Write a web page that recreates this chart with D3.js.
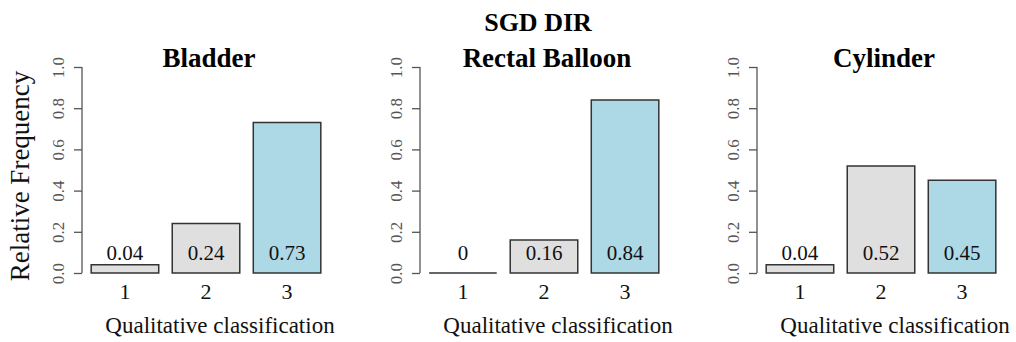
<!DOCTYPE html>
<html>
<head>
<meta charset="utf-8">
<script src="https://cdn.jsdelivr.net/npm/d3@7"></script>
<style>
  body { margin: 0; background: #fff; }
  svg { display: block; font-family: "Liberation Serif", "Times New Roman", serif; }
</style>
</head>
<body>
<svg id="chart" width="1016" height="342"></svg>
<script>
const panelTitles = ['Bladder', 'Rectal Balloon', 'Cylinder'];
const categories = ['1', '2', '3'];
const bladder = [0.04, 0.24, 0.73];
const rectalBalloon = [0, 0.16, 0.84];
const cylinder = [0.04, 0.52, 0.45];
const barLabels = [['0.04', '0.24', '0.73'], ['0', '0.16', '0.84'], ['0.04', '0.52', '0.45']];
const yTicks = [0, 0.2, 0.4, 0.6, 0.8, 1.0];
const seriesList = [bladder, rectalBalloon, cylinder];
const barColors = ['#dfdfdf', '#dfdfdf', '#add8e6'];

const svg = d3.select('#chart');
const axisLeft = [82, 420, 757];
const plotW = 248;
const plotTop = 67, plotBottom = 273;

// R barplot style: width 1, space 0.2, 4% padding
const sx = d3.scaleLinear().domain([0.064, 3.736]).range([0, plotW]);
const sy = d3.scaleLinear().domain([0, 1]).range([plotBottom, plotTop]);

svg.append('text')
  .attr('x', 538).attr('y', 31)
  .attr('text-anchor', 'middle')
  .style('font-weight', 'bold').style('font-size', '26px')
  .text('SGD DIR');

seriesList.forEach(function(values, p) {
  const g = svg.append('g').attr('transform', `translate(${axisLeft[p]},0)`);

  // y axis
  const yAxis = d3.axisLeft(sy).tickValues(yTicks).tickFormat(d3.format('.1f')).tickSize(8);
  const ga = g.append('g').call(yAxis);
  ga.select('.domain').attr('d', `M0,${sy(0)}V${sy(1)}`).attr('stroke', '#555').attr('stroke-width', 1.3);
  ga.selectAll('.tick line').attr('stroke', '#555').attr('stroke-width', 1.3);
  ga.selectAll('.tick text')
    .attr('x', null).attr('dy', null)
    .attr('transform', 'translate(-18,0) rotate(-90)')
    .attr('text-anchor', 'middle')
    .attr('fill', '#555')
    .style('font-family', '"Liberation Serif", serif')
    .style('font-size', '17px');

  // bars (paths so a zero-height bar still shows its outline)
  const bw = sx(1.2) - sx(0.2);
  g.selectAll('path.bar').data(values).enter().append('path')
    .attr('class', 'bar')
    .attr('d', (d, i) => `M${sx(0.2 + i * 1.2)},${sy(0)}V${sy(d)}h${bw}V${sy(0)}Z`)
    .attr('fill', (d, i) => barColors[i])
    .attr('stroke', '#333')
    .attr('stroke-width', 1.5);

  // value labels
  g.selectAll('text.val').data(values).enter().append('text')
    .attr('class', 'val')
    .attr('x', (d, i) => sx(0.7 + i * 1.2))
    .attr('y', sy(0.063))
    .attr('text-anchor', 'middle')
    .style('font-size', '21px')
    .attr('fill', '#111')
    .text((d, i) => barLabels[p][i]);

  // category labels
  g.selectAll('text.cat').data(categories).enter().append('text')
    .attr('class', 'cat')
    .attr('x', (d, i) => sx(0.7 + i * 1.2))
    .attr('y', 299)
    .attr('text-anchor', 'middle')
    .style('font-size', '22px')
    .attr('fill', '#111')
    .text(d => d);

  // x title
  g.append('text')
    .attr('x', sx(0.2) + (sx(3.6) - sx(0.2)) / 2 + 14)
    .attr('y', 333)
    .attr('text-anchor', 'middle')
    .style('font-size', '23px')
    .attr('fill', '#111')
    .text('Qualitative classification');

  // panel title
  g.append('text')
    .attr('x', plotW / 2 + 3)
    .attr('y', 67)
    .attr('text-anchor', 'middle')
    .style('font-weight', 'bold').style('font-size', '27px')
    .text(panelTitles[p]);
});

svg.append('text')
  .attr('transform', 'translate(29,176) rotate(-90)')
  .attr('text-anchor', 'middle')
  .style('font-size', '27px')
  .attr('fill', '#111')
  .text('Relative Frequency');
</script>
</body>
</html>
